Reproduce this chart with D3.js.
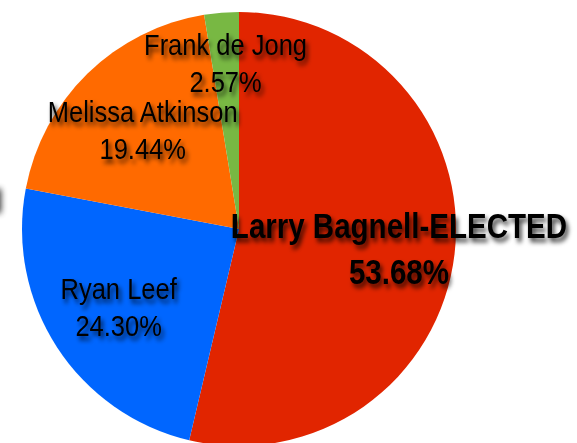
<!DOCTYPE html>
<html>
<head>
<meta charset="utf-8">
<script src="https://cdn.jsdelivr.net/npm/d3@7"></script>
<style>
  html, body { margin: 0; padding: 0; background: #fff; overflow: hidden; }
  svg { display: block; }
</style>
</head>
<body>
<svg id="chart" width="577" height="443"></svg>
<script>
// ---- data ----
const candidates = ["Larry Bagnell-ELECTED", "Ryan Leef", "Melissa Atkinson", "Frank de Jong"];
const shares = [53.68, 24.30, 19.44, 2.57];
const elected = [true, false, false, false];

// ---- styles / layout ----
const sliceColors = ["#e12500", "#0066ff", "#ff6a00", "#78b843"];
const labelDistance = [161, 143.5, 138, 167];

const W = 577, H = 443;
const cx = 239, cy = 229, R = 217;

const svg = d3.select("#chart");
const defs = svg.append("defs");
const f = defs.append("filter").attr("id", "shadow")
  .attr("x", "-20%").attr("y", "-40%").attr("width", "140%").attr("height", "180%");
f.append("feDropShadow").attr("dx", 3).attr("dy", 4).attr("stdDeviation", 2.6)
  .attr("flood-color", "#000").attr("flood-opacity", 0.75);
const blur = defs.append("filter").attr("id", "blur")
  .attr("x", "-100%").attr("y", "-100%").attr("width", "300%").attr("height", "300%");
blur.append("feGaussianBlur").attr("stdDeviation", 3);

const data = candidates.map((c, i) => ({ name: c, value: shares[i], elected: elected[i], color: sliceColors[i], dist: labelDistance[i] }));

const pie = d3.pie().sort(null).value(d => d.value).startAngle(0).endAngle(2 * Math.PI);
const arc = d3.arc().innerRadius(0).outerRadius(R);
const arcs = pie(data);

const g = svg.append("g").attr("transform", `translate(${cx},${cy})`);
g.selectAll("path.slice").data(arcs).enter().append("path")
  .attr("class", "slice")
  .attr("d", arc)
  .attr("fill", d => d.data.color);

// blurred shadow fragment of an off-canvas element at the left edge
svg.append("rect")
  .attr("x", -12).attr("y", 189)
  .attr("width", 13).attr("height", 24)
  .attr("fill", "#000")
  .attr("opacity", 0.8)
  .attr("filter", "url(#blur)");

const fmt = d3.format(".2f");
const labels = g.selectAll("g.label").data(arcs).enter().append("g")
  .attr("class", "label")
  .attr("transform", d => {
    const a = (d.startAngle + d.endAngle) / 2;
    const x = Math.sin(a) * d.data.dist;
    const y = -Math.cos(a) * d.data.dist;
    const sx = d.data.elected ? 0.82 : 0.85;
    return `translate(${x},${y}) scale(${sx},1)`;
  })
  .attr("filter", "url(#shadow)");

labels.each(function(d) {
  const el = d3.select(this);
  const bold = d.data.elected;
  const t = el.append("text")
    .attr("text-anchor", "middle")
    .attr("font-family", "'Liberation Sans', Arial, sans-serif")
    .attr("font-weight", bold ? "bold" : "normal")
    .attr("font-size", bold ? 36 : 30)
    .attr("fill", "#000");
  t.append("tspan").attr("x", 0).attr("y", bold ? -10 : -8).text(d.data.name);
  t.append("tspan").attr("x", 0).attr("y", bold ? 36 : 29).text(fmt(d.data.value) + "%");
});
</script>
</body>
</html>
